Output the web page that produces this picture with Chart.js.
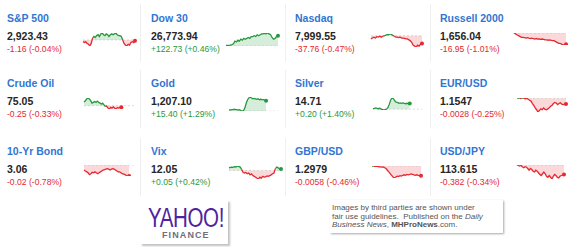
<!DOCTYPE html>
<html>
<head>
<meta charset="utf-8">
<script src="https://cdn.jsdelivr.net/npm/chart.js@4.4.0/dist/chart.umd.min.js"></script>
<style>
  html, body { margin: 0; padding: 0; background: #fff; }
  #board { position: relative; width: 575px; height: 247px; overflow: hidden; font-family: "Liberation Sans", Arial, sans-serif; }
  .t { position: absolute; white-space: nowrap; }
  .name { font-size: 10.5px; font-weight: bold; color: #3176d2; line-height: 12px; }
  .price { font-size: 10.5px; font-weight: bold; color: #262626; line-height: 12px; }
  .chg { font-size: 8.6px; line-height: 10px; }
  .sep { position: absolute; width: 1px; background: #efefef; }
  canvas { position: absolute; }
  #logo { position: absolute; left: 140px; top: 200px; width: 88px; height: 44px; background: #fff; box-shadow: 2px 2px 2px rgba(0,0,0,0.25); }
  #yahoo { position: absolute; left: 148px; top: 207px; font-size: 27px; line-height: 22px; color: #5023a0; transform: scaleX(0.76); transform-origin: left top; letter-spacing: -0.5px; }
  #finance { position: absolute; left: 162px; top: 231px; font-size: 9px; font-weight: bold; color: #6e6e7c; letter-spacing: 1.1px; line-height: 9px; }
  #note { position: absolute; left: 330px; top: 200px; width: 173px; height: 33px; background: #fff; box-shadow: 1px 1px 2px rgba(0,0,0,0.35); font-size: 8px; line-height: 8.7px; color: #555; padding: 4px 0 0 2px; box-sizing: border-box; }
</style>
</head>
<body>
<div id="board"></div>
<script>
// tickers, last price and change
var names = ['S&P 500', 'Dow 30', 'Nasdaq', 'Russell 2000',
             'Crude Oil', 'Gold', 'Silver', 'EUR/USD',
             '10-Yr Bond', 'Vix', 'GBP/USD', 'USD/JPY'];
var prices = ['2,923.43', '26,773.94', '7,999.55', '1,656.04',
              '75.05', '1,207.10', '14.71', '1.1547',
              '3.06', '12.05', '1.2979', '113.615'];
var changes = ['-1.16 (-0.04%)', '+122.73 (+0.46%)', '-37.76 (-0.47%)', '-16.95 (-1.01%)',
               '-0.25 (-0.33%)', '+15.40 (+1.29%)', '+0.20 (+1.40%)', '-0.0028 (-0.25%)',
               '-0.02 (-0.78%)', '+0.05 (+0.42%)', '-0.0058 (-0.46%)', '-0.382 (-0.34%)'];
// previous close (the line the fill is drawn against)
var prevClose = [2924.6, 26651.2, 8037.3, 1673.0, 75.30, 1191.7, 14.51, 1.1575, 3.084, 12.00, 1.3037, 113.997];

var times = ['9:30','9:40','9:50','10:00','10:10','10:20','10:30','10:40','10:50','11:00','11:10','11:20','11:30','11:40','11:50',
             '12:00','12:10','12:20','12:30','12:40','12:50','13:00','13:10','13:20','13:30','13:40','13:50',
             '14:00','14:10','14:20','14:30','14:40','14:50','15:00','15:10','15:20','15:30','15:40','15:50','16:00'];

var spx = [2922.2,2921.0,2922.2,2919.8,2918.6,2916.2,2919.8,2927.0,2929.4,2928.2,2930.6,2931.8,2929.4,2933.0,2934.2,2931.8,2930.6,2933.0,2931.8,2929.4,
           2931.8,2933.0,2931.8,2933.0,2934.2,2931.8,2930.6,2930.6,2929.4,2924.6,2919.8,2917.4,2916.2,2918.6,2917.4,2921.0,2922.2,2921.0,2923.4];
var dji = [26657,26657,26657,26662,26667,26678,26710,26699,26721,26710,26732,26721,26742,26732,26742,26753,26742,26764,
           26764,26774,26764,26785,26774,26785,26796,26796,26801,26796,26806,26796,26785,26753,26732,26742,26764,26774];
var ixic = [8021.8,8026.2,8030.6,8026.2,8032.9,8030.6,8035.1,8030.6,8035.1,8037.3,8039.5,8044.0,8041.7,8046.2,8044.0,8039.5,8035.1,8030.6,
            8030.6,8028.4,8030.6,8026.2,8026.2,8024.0,8021.8,8021.8,8017.3,8012.9,8004.0,7990.7,7986.2,7981.8,7990.7,7986.2,7995.1,7999.6];
var rut = [1673.0,1671.7,1670.4,1669.1,1667.8,1666.5,1666.5,1665.9,1665.2,1665.9,1665.2,1664.6,1665.2,1664.6,1663.9,1664.6,1663.9,1663.9,
           1663.3,1663.9,1663.3,1662.6,1662.6,1662.0,1662.6,1662.0,1661.3,1661.3,1660.0,1658.7,1657.4,1657.4,1656.1,1654.8,1655.5,1656.0];
var crude = [75.84,76.05,76.30,76.46,76.30,76.05,75.68,75.80,75.93,75.80,75.99,75.80,75.68,75.55,75.68,75.43,75.18,75.24,74.93,74.80,
             75.05,74.93,75.11,74.93,74.80,74.99,74.93,75.05,75.05];
var gold = [1193.7,1193.0,1193.7,1193.7,1194.4,1193.7,1193.7,1193.0,1193.7,1192.4,1191.7,1192.4,1196.4,1203.1,1208.5,1211.1,1212.5,1211.1,
            1209.8,1210.5,1209.8,1209.1,1209.8,1208.5,1209.1,1208.5,1208.5,1207.8,1207.1];
var silver = [14.53,14.54,14.555,14.54,14.525,14.54,14.51,14.495,14.48,14.495,14.51,14.57,14.69,14.84,14.91,14.885,14.81,14.76,14.75,14.72,
              14.735,14.72,14.735,14.72,14.705,14.72,14.705,14.71];
var eurusd = [1.1575,1.1576,1.1574,1.1574,1.1576,1.1574,1.1572,1.1574,1.1570,1.1565,1.1561,1.1549,1.1540,1.1528,1.1519,1.1508,1.1515,1.1523,
              1.1519,1.1528,1.1521,1.1519,1.1523,1.1528,1.1536,1.1540,1.1549,1.1554,1.1551,1.1544,1.1549,1.1553,1.1546,1.1544,1.1546,1.1547];
var tnx = [3.073,3.071,3.069,3.067,3.063,3.065,3.068,3.067,3.069,3.067,3.065,3.067,3.069,3.071,3.073,3.074,3.075,3.076,3.075,3.073,
           3.075,3.076,3.075,3.073,3.071,3.069,3.069,3.067,3.065,3.064,3.063,3.061,3.060,3.060];
var vix = [12.10,12.12,12.13,12.12,12.15,12.13,12.17,12.15,12.13,12.03,11.93,11.90,11.92,11.87,11.90,11.83,11.87,11.80,11.77,11.74,
           11.70,11.67,11.74,11.70,11.77,11.74,11.75,11.79,11.77,11.80,11.83,11.87,11.90,12.07,12.13,12.10,12.05,12.05];
var gbpusd = [1.3037,1.3037,1.3035,1.3037,1.3035,1.3032,1.3032,1.3030,1.3032,1.3027,1.3022,1.3012,1.3002,1.2992,1.2982,1.2972,1.2966,1.2972,
              1.2977,1.2975,1.2980,1.2977,1.2982,1.2985,1.2982,1.2987,1.2985,1.2987,1.2990,1.2987,1.2985,1.2982,1.2985,1.2982,1.2980,1.2979];
var usdjpy = [114.00,113.98,113.96,113.98,113.93,113.89,113.93,113.91,113.86,113.79,113.86,113.82,113.75,113.72,113.79,113.75,113.69,113.62,
              113.58,113.65,113.72,113.65,113.55,113.51,113.58,113.51,113.44,113.55,113.62,113.58,113.51,113.48,113.55,113.58,113.60,113.62];

var series = [spx, dji, ixic, rut, crude, gold, silver, eurusd, tnx, vix, gbpusd, usdjpy];
// how many time slots the full session has on each sparkline
var slots = [39, 36, 36, 36, 40, 38, 37, 36, 39, 38, 36, 36];

// layout (pixels)
var colX = [7, 151, 295, 440];
var rowY = [12, 77, 145];
var boxes = [ // x0, y0, x1, y1 of the plotted area
  [82, 32, 136, 47], [225, 32, 279, 46.5], [370, 32.5, 423, 47], [513, 32, 567, 46],
  [83, 96.7, 137, 110], [228, 96, 279, 111.5], [372, 96.7, 423, 111], [516, 96.5, 567, 112.7],
  [83, 164, 137, 176.7], [228, 165, 282, 180], [371, 165, 422, 179.3], [516, 164, 565, 180]
];

var GREEN = 'rgb(40,152,62)';
var RED = 'rgb(230,40,48)';
var board = document.getElementById('board');

function addText(cls, txt, x, y, color) {
  var d = document.createElement('div');
  d.className = 't ' + cls;
  d.textContent = txt;
  d.style.left = x + 'px';
  d.style.top = y + 'px';
  if (color) d.style.color = color;
  board.appendChild(d);
}

// faint card separators
[[140, 4, 58], [285, 4, 58], [430, 4, 58], [140, 70, 58], [285, 70, 58], [430, 70, 58], [140, 138, 58], [285, 138, 58], [430, 138, 58]].forEach(function (s) {
  var d = document.createElement('div');
  d.className = 'sep';
  d.style.left = s[0] + 'px'; d.style.top = s[1] + 'px'; d.style.height = s[2] + 'px';
  board.appendChild(d);
});

names.forEach(function (n, i) {
  var x = colX[i % 4], y = rowY[Math.floor(i / 4)];
  var up = changes[i].charAt(0) === '+';
  addText('name', n, x, y);
  addText('price', prices[i], x, y + 18);
  addText('chg', changes[i], x, y + 32, up ? GREEN : RED);

  var data = series[i], base = prevClose[i], b = boxes[i], pad = 3;
  var cv = document.createElement('canvas');
  var w = Math.round(b[2] - b[0] + 2 * pad), h = Math.round(b[3] - b[1] + 2 * pad);
  cv.width = w; cv.height = h;
  cv.style.left = (b[0] - pad) + 'px';
  cv.style.top = (b[1] - pad) + 'px';
  board.appendChild(cv);

  var lo = Math.min.apply(null, data.concat([base]));
  var hi = Math.max.apply(null, data.concat([base]));
  var labels = times.slice(0, slots[i]);
  var last = data.length - 1;
  var lastUp = data[last] >= base;

  new Chart(cv, {
    type: 'line',
    data: {
      labels: labels,
      datasets: [{
        data: data,
        order: 0,
        borderWidth: 1.3,
        tension: 0,
        borderColor: lastUp ? GREEN : RED,
        segment: {
          borderColor: function (ctx) {
            return (ctx.p0.parsed.y + ctx.p1.parsed.y) / 2 >= base ? GREEN : RED;
          }
        },
        fill: { target: { value: base }, above: 'rgba(70,175,90,0.22)', below: 'rgba(240,90,95,0.24)' },
        pointRadius: function (ctx) { return ctx.dataIndex === last ? 2 : 0; },
        pointBorderWidth: 0,
        pointBackgroundColor: lastUp ? GREEN : RED
      }, {
        data: labels.map(function () { return base; }),
        order: 1,
        borderWidth: 1,
        borderColor: '#dadada',
        borderDash: [2, 2],
        pointRadius: 0,
        fill: false
      }]
    },
    options: {
      responsive: false,
      animation: false,
      devicePixelRatio: 1,
      layout: { padding: pad },
      plugins: { legend: { display: false }, tooltip: { enabled: false } },
      scales: {
        x: { display: false, offset: false },
        y: { display: false, min: lo, max: hi }
      }
    }
  });
});

// footer
var logo = document.createElement('div'); logo.id = 'logo'; board.appendChild(logo);
var y1 = document.createElement('div'); y1.id = 'yahoo'; y1.textContent = 'YAHOO!'; board.appendChild(y1);
var y2 = document.createElement('div'); y2.id = 'finance'; y2.textContent = 'FINANCE'; board.appendChild(y2);
var note = document.createElement('div'); note.id = 'note';
note.innerHTML = 'Images by third parties are shown under<br>fair use guidelines.&nbsp; Published on the <i>Daily</i><br><i>Business News</i>, <b>MHProNews</b>.com.';
board.appendChild(note);
</script>
</body>
</html>
